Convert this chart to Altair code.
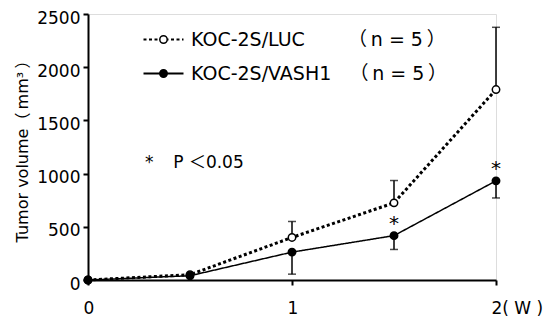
import altair as alt
import pandas as pd

# ---- data ----
weeks = [0, 0.5, 1, 1.5, 2]
luc_label = "KOC-2S/LUC\u3000\u00a0\u00a0\u00a0\u00a0（\u2009n = 5\u2009）"
vash_label = "KOC-2S/VASH1 \u00a0\u00a0（\u2009n = 5\u2009）"
luc_mean = [0, 50, 400, 725, 1790]
luc_upper = [0, 50, 550, 935, 2375]
vash_mean = [0, 40, 262, 417, 932]
vash_lower = [0, 40, 55, 287, 771]
vash_sig = ["", "", "", "*", "*"]
note_text = ["*\u00a0\u00a0\u00a0\u2009P ＜0.05"]
note_week = [0.28]
note_vol = [1100]

rows = []
for i, w in enumerate(weeks):
    rows.append(dict(week=w, series=luc_label, series_b=luc_label,
                     mean=luc_mean[i], end=luc_upper[i], sig=""))
    rows.append(dict(week=w, series=vash_label, series_b=vash_label,
                     mean=vash_mean[i], end=vash_lower[i], sig=vash_sig[i]))
df = pd.DataFrame(rows)
df_err = df[df["mean"] != df["end"]]
df_note = pd.DataFrame({"week": note_week, "vol": note_vol, "text": note_text})

FONT = "DejaVu Sans, Noto Sans CJK JP"
order = [luc_label, vash_label]

x = alt.X("week:Q", scale=alt.Scale(domain=[0, 2], nice=False),
          axis=alt.Axis(values=[0, 1, 2], title=None, grid=False,
                        labelExpr="datum.value == 2 ? '2( W )' : format(datum.value, 'd')",
                        labelAlign="left", labelOffset=-5, labelPadding=28,
                        labelBaseline="alphabetic",
                        tickSize=5, tickWidth=2, domainWidth=2,
                        domainColor="black", tickColor="black",
                        labelColor="black", labelFont=FONT, labelFontSize=17))
y_axis = alt.Axis(values=[0, 500, 1000, 1500, 2000, 2500], grid=False, format="d",
                  title="Tumor volume（\u2009mm³\u2009）", titleFont=FONT, titleFontSize=16,
                  titleFontWeight="normal", titleColor="black", titlePadding=6,
                  tickSize=5, tickWidth=2, domainWidth=2, labelPadding=3,
                  domainColor="black", tickColor="black", labelColor="black",
                  labelFont=FONT, labelFontSize=17, labelOffset=4)
yscale = alt.Scale(domain=[0, 2500], nice=False)

legA = alt.Legend(title=None, orient="none", legendX=66, legendY=16,
                  symbolType="M-5,0H5", symbolSize=64, symbolStrokeColor="black",
                  symbolStrokeWidth=2,
                  labelFont=FONT, labelFontSize=19, labelColor="black", labelLimit=0,
                  labelOffset=18, rowPadding=14, padding=0)
legB = alt.Legend(title=None, orient="none", legendX=66, legendY=16,
                  symbolType="circle", symbolSize=55, symbolStrokeColor="black",
                  symbolStrokeWidth=1.5, labelExpr="' '", labelLimit=0,
                  labelFont=FONT, labelFontSize=19,
                  labelOffset=18, rowPadding=14, padding=0)

base = alt.Chart(df)

lines = base.mark_line(color="black").encode(
    x=x,
    y=alt.Y("mean:Q", scale=yscale, axis=y_axis),
    strokeDash=alt.StrokeDash("series:N", sort=order,
                              scale=alt.Scale(domain=order, range=[[3, 2.5], [1, 0]]),
                              legend=legA),
    strokeWidth=alt.StrokeWidth("series:N", sort=order,
                                scale=alt.Scale(domain=order, range=[3, 1.5]),
                                legend=None),
)

rules = alt.Chart(df_err).mark_rule(color="black", strokeWidth=1.5).encode(
    x="week:Q", y=alt.Y("mean:Q", scale=yscale), y2="end:Q")
caps = alt.Chart(df_err).mark_tick(orient="horizontal", size=8, thickness=1.5,
                                   color="black").encode(
    x="week:Q", y=alt.Y("end:Q", scale=yscale))

points = base.mark_point(filled=True, shape="circle", stroke="black",
                         strokeWidth=1.5, size=55, opacity=1).encode(
    x="week:Q", y=alt.Y("mean:Q", scale=yscale),
    fill=alt.Fill("series_b:N", sort=order,
                  scale=alt.Scale(domain=order, range=["white", "black"]),
                  legend=legB),
)

stars = base.mark_text(font=FONT, fontSize=20, color="black", fill="black",
                       baseline="alphabetic", dy=-6).encode(
    x="week:Q", y=alt.Y("mean:Q", scale=yscale), text="sig:N")

note = alt.Chart(df_note).mark_text(font=FONT, fontSize=17, color="black", fill="black",
                                    align="left", baseline="middle").encode(
    x="week:Q", y=alt.Y("vol:Q", scale=yscale), text="text:N")

chart = alt.layer(lines, rules, caps, points, stars, note).resolve_legend(
    strokeDash="independent", fill="independent"
).properties(
    width=408, height=266,
    autosize=alt.AutoSizeParams(type="none"),
    padding={"left": 80, "top": 6, "right": 49, "bottom": 36},
).configure_view(stroke=None).configure(background="white")

chart.save("out.html", embed_options={"renderer": "svg", "actions": False})
